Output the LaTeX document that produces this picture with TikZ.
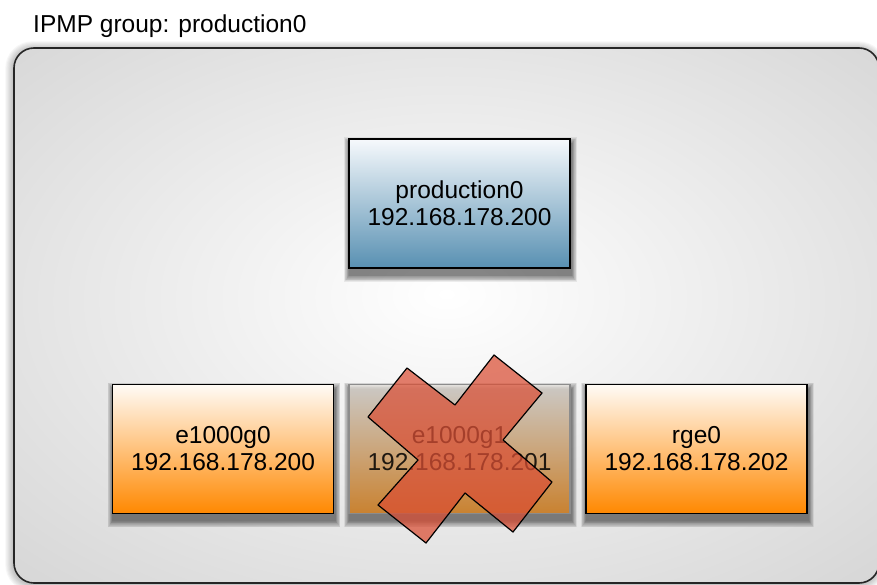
\documentclass[tikz,border=0pt]{standalone}
\usepackage{fontspec}
\setmainfont{Liberation Sans}

\definecolor{vipbot}{RGB}{88,144,178}
\definecolor{viptop}{RGB}{246,249,252}
\definecolor{nicbot}{RGB}{255,136,0}
\definecolor{nictop}{RGB}{255,251,246}
\definecolor{xred}{RGB}{218,78,52}
\definecolor{glowa}{RGB}{236,236,236}
\definecolor{glowb}{RGB}{210,210,210}
\definecolor{glowc}{RGB}{198,198,198}
\definecolor{glowd}{RGB}{185,185,185}

% soft glow for the group background
\pgfdeclareradialshading{groupglow}{\pgfpoint{0bp}{2bp}}{%
  color(0bp)=(white); color(17bp)=(glowa); color(40bp)=(glowb);
  color(50bp)=(glowc); color(70bp)=(glowd)}

\pgfdeclarelayer{base}
\pgfdeclarelayer{shade}
\pgfsetlayers{base,shade,main}

\tikzset{
  lbl/.style={font=\fontsize{24.5}{27}\selectfont},
  groupbox/.style={draw=black!85, line width=1.6pt, rounded corners=20pt,
    shading=groupglow, minimum width=865pt, minimum height=535pt, inner sep=0pt},
  ifbox/.style={lbl, draw=black, line width=1.4pt, minimum width=221pt,
    minimum height=129pt, inner sep=0pt, align=center},
  vipbox/.style={ifbox, top color=viptop, bottom color=vipbot},
  nicbox/.style={ifbox, top color=nictop, bottom color=nicbot},
  failbox/.style={nicbox, draw=black!45, fill opacity=0.6, text opacity=0.85},
  xmark/.style={fill=xred, fill opacity=0.72, draw=black, line width=1.2pt, line join=round},
  softshade/.style={fill=black, fill opacity=#1},
  softshade/.default=0.06
}

\begin{document}
\begin{tikzpicture}[x=1pt,y=-1pt]
\useasboundingbox (0,0) rectangle (877,585);

% data address
\node (prod) [vipbox] at (459.5,203.5) {production0\\192.168.178.200};

% underlying interfaces
\node (nic0) [nicbox] at (223,449) {e1000g0\\192.168.178.200};
\node (nic1) [failbox] at (459.5,449) {e1000g1\\192.168.178.201};
\node (nic2) [nicbox] at (696.5,449) {rge0\\192.168.178.202};

% IPMP group frame, beneath everything
\begin{pgfonlayer}{base}
  \foreach \k in {1,...,7}
    \fill[softshade=0.035, rounded corners=20pt+\k*1pt]
      ([shift={(-1-\k*1.1,1-\k*1.1)}]14,48) rectangle ([shift={(-1+\k*1.1,1+\k*1.1)}]879,583);
  \node (group) [groupbox] at (446.5,315.5) {};
  \node (title) [lbl, anchor=base west, inner sep=0pt] at (33,33) {IPMP group: production0};
\end{pgfonlayer}

% soft drop shadows under the boxes
\begin{pgfonlayer}{shade}
  \foreach \n in {prod,nic0,nic1,nic2}
    \foreach \k in {1,...,9}
      \fill[softshade=0.065]
        ([shift={(1-\k*0.55,6-\k*0.8)}]\n.north west) rectangle
        ([shift={(1+\k*0.55,6+\k*0.8)}]\n.south east);
\end{pgfonlayer}

% failed interface marker
\draw[xmark] (407,368) -- (455,405) -- (494,355) -- (542,393) -- (503,440)
  -- (552,482) -- (513,532) -- (465,493) -- (426,543) -- (378,505)
  -- (418,460) -- (368,417) -- cycle;
\end{tikzpicture}
\end{document}
